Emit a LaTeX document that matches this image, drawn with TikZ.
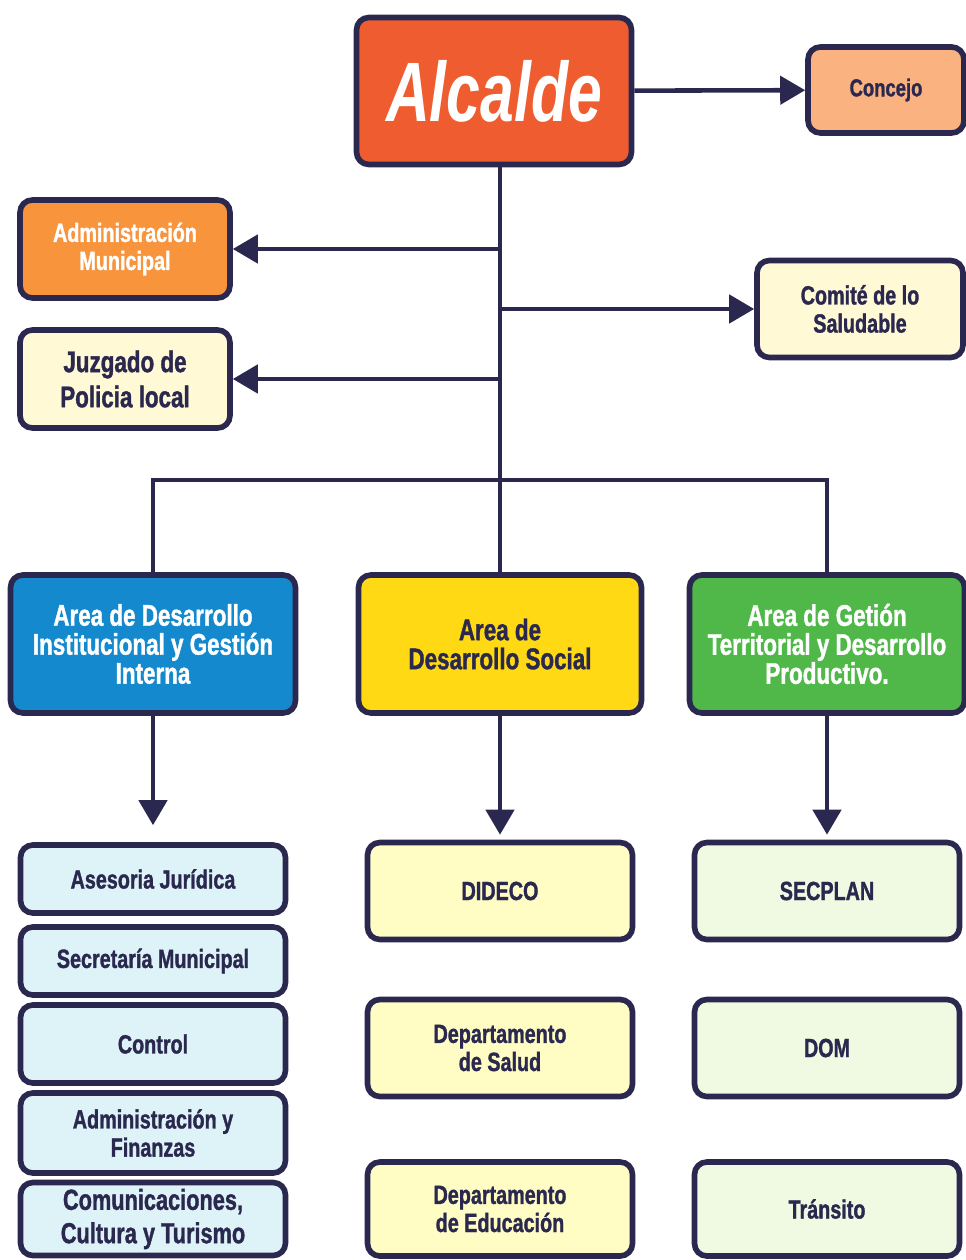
\documentclass[tikz,border=0pt]{standalone}
\usepackage{fontspec}
\setmainfont{Liberation Sans}[FakeStretch=0.75,
  BoldFont={Liberation Sans Bold}, BoldFeatures={FakeBold=1.2}]
\newfontfamily\titlefont{Liberation Sans}[FakeStretch=0.72,
  BoldItalicFont={Liberation Sans Bold Italic}]
\usetikzlibrary{arrows.meta}

\definecolor{frame}{RGB}{42,40,78}
\definecolor{mayor}{RGB}{238,92,48}
\definecolor{council}{RGB}{249,178,128}
\definecolor{admin}{RGB}{247,148,60}
\definecolor{cream}{RGB}{255,249,214}
\definecolor{areablue}{RGB}{20,137,205}
\definecolor{areayellow}{RGB}{255,217,20}
\definecolor{areagreen}{RGB}{80,184,72}
\definecolor{paleblue}{RGB}{222,243,248}
\definecolor{paleyellow}{RGB}{255,252,196}
\definecolor{palegreen}{RGB}{240,250,226}

\tikzset{
  box/.style={draw=frame, line width=3.2pt, rounded corners=7pt, align=center,
    text=frame, inner sep=2pt, font=\bfseries\fontsize{15}{16}\selectfont},
  link/.style={draw=frame, line width=2.6pt},
  arr/.style={link, -{Triangle[length=0.5cm,width=0.56cm]}},
}

\begin{document}
\begin{tikzpicture}[x=0.02cm, y=-0.02cm]
    \useasboundingbox (0,0) rectangle (966,1260);
    \coordinate (hub) at (500,480);

    % top
    \node[box, fill=mayor, text=white, minimum width=5.5cm, minimum height=2.94cm,
        font=\titlefont\bfseries\itshape\fontsize{48}{48}\selectfont] (alcalde) at (494,91) {Alcalde};
    \node[box, fill=council, minimum width=3.12cm, minimum height=1.72cm,
        font=\bfseries\fontsize{14}{15}\selectfont] (concejo) at (886,90) {Concejo};
    \node[box, fill=admin, text=white, minimum width=4.2cm, minimum height=1.96cm] (admin) at (125,249)
        {Administración\\Municipal};
    \node[box, fill=cream, minimum width=4.12cm, minimum height=1.94cm] (comite) at (860,309)
        {Comité de lo\\Saludable};
    \node[box, fill=cream, minimum width=4.2cm, minimum height=1.96cm,
        font=\bfseries\fontsize{17}{20}\selectfont] (juzgado) at (125,379) {Juzgado de\\Policia local};

    % areas
    \node[box, fill=areablue, text=white, minimum width=5.7cm, minimum height=2.76cm,
        font=\bfseries\fontsize{17}{16.5}\selectfont] (blue) at (153,644)
        {Area de Desarrollo\\Institucional y Gestión\\Interna};
    \node[box, fill=areayellow, minimum width=5.66cm, minimum height=2.76cm,
        font=\bfseries\fontsize{17}{16.5}\selectfont] (yellow) at (500,644)
        {Area de\\Desarrollo Social};
    \node[box, fill=areagreen, text=white, minimum width=5.5cm, minimum height=2.76cm,
        font=\bfseries\fontsize{17}{16.5}\selectfont] (green) at (827,644)
        {Area de Getión\\Territorial y Desarrollo\\Productivo.};

    % left column
    \node[box, fill=paleblue, minimum width=5.3cm, minimum height=1.36cm] (asesoria) at (153,879) {Asesoria Jurídica};
    \node[box, fill=paleblue, minimum width=5.3cm, minimum height=1.36cm] (secretaria) at (153,961) {Secretaría Municipal};
    \node[box, fill=paleblue, minimum width=5.3cm, minimum height=1.56cm] (control) at (153,1044) {Control};
    \node[box, fill=paleblue, minimum width=5.3cm, minimum height=1.6cm] (finanzas) at (153,1133)
        {Administración y\\Finanzas};
    \node[box, fill=paleblue, minimum width=5.3cm, minimum height=1.46cm,
        font=\bfseries\fontsize{16.5}{19}\selectfont] (comunicaciones) at (153,1219)
        {Comunicaciones,\\Cultura y Turismo};

    % middle column
    \node[box, fill=paleyellow, minimum width=5.3cm, minimum height=1.94cm] (dideco) at (500,891) {DIDECO};
    \node[box, fill=paleyellow, minimum width=5.3cm, minimum height=1.94cm] (salud) at (500,1048)
        {Departamento\\de Salud};
    \node[box, fill=paleyellow, minimum width=5.3cm, minimum height=1.88cm] (educacion) at (500,1209)
        {Departamento\\de Educación};

    % right column
    \node[box, fill=palegreen, minimum width=5.3cm, minimum height=1.94cm] (secplan) at (827,891) {SECPLAN};
    \node[box, fill=palegreen, minimum width=5.3cm, minimum height=1.94cm] (dom) at (827,1048) {DOM};
    \node[box, fill=palegreen, minimum width=5.3cm, minimum height=1.88cm] (transito) at (827,1209) {Tránsito};

    % connectors
    \draw[arr] (alcalde) -- (concejo);
    \draw[link] (alcalde.south -| hub) -- (hub);
    \draw[arr] (hub |- admin.east) -- (admin.east);
    \draw[arr] (hub |- comite.west) -- (comite.west);
    \draw[arr] (hub |- juzgado.east) -- (juzgado.east);
    \draw[link] (blue.north) |- (hub) -| (green.north);
    \draw[link] (hub) -- (yellow.north);

    \draw[arr, shorten >=0.34cm] (blue.south) -- (asesoria.north);
    \draw[arr, shorten >=0.1cm] (yellow.south) -- (dideco.north);
    \draw[arr, shorten >=0.1cm] (green.south) -- (secplan.north);

\end{tikzpicture}
\end{document}
